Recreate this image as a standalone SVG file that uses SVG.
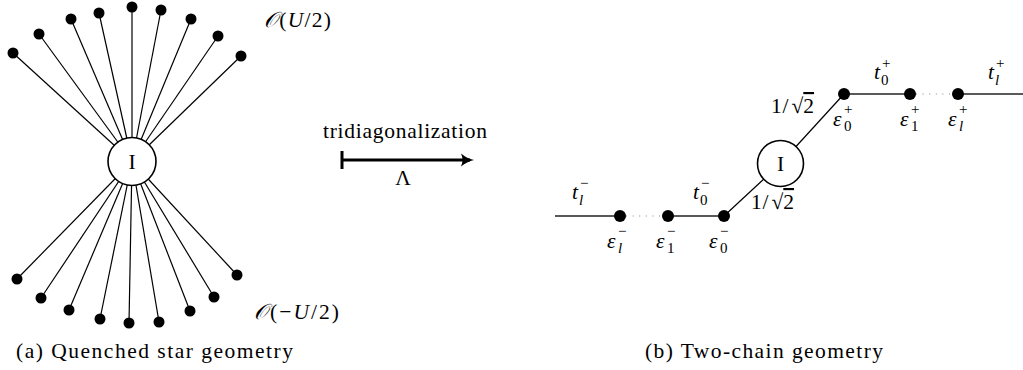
<svg xmlns="http://www.w3.org/2000/svg" width="1023" height="370" viewBox="0 0 1023 370">
<style>
text{font-family:"Liberation Serif","DejaVu Serif",serif;fill:#000}
.r{font-size:21.5px}
.m{font-size:21.5px;font-style:italic}
.s{font-size:15px;font-style:normal}
.si{font-size:15px;font-style:italic}
.ov{text-decoration:overline}
.edge{stroke:#000;stroke-width:1.2;fill:none}
.chain{stroke:#222;stroke-width:1.6;fill:none}
.dots{stroke:#888;stroke-width:1.1;stroke-dasharray:1 5.6;fill:none}
.node{fill:#fff;stroke:#000;stroke-width:1.6}
.dot{fill:#000}
</style>
<g id="connectors">
<g id="star-edges" class="edge">
<line x1="132" y1="161.5" x2="13" y2="53"/>
<line x1="132" y1="161.5" x2="39" y2="34"/>
<line x1="132" y1="161.5" x2="71" y2="19"/>
<line x1="132" y1="161.5" x2="99" y2="13"/>
<line x1="132" y1="161.5" x2="132" y2="7"/>
<line x1="132" y1="161.5" x2="161" y2="10"/>
<line x1="132" y1="161.5" x2="191" y2="19"/>
<line x1="132" y1="161.5" x2="218" y2="36"/>
<line x1="132" y1="161.5" x2="241" y2="56"/>
<line x1="132" y1="161.5" x2="17" y2="279"/>
<line x1="132" y1="161.5" x2="41" y2="298"/>
<line x1="132" y1="161.5" x2="69" y2="310"/>
<line x1="132" y1="161.5" x2="100" y2="319"/>
<line x1="132" y1="161.5" x2="129" y2="323"/>
<line x1="132" y1="161.5" x2="159" y2="322"/>
<line x1="132" y1="161.5" x2="190" y2="311"/>
<line x1="132" y1="161.5" x2="214" y2="297"/>
<line x1="132" y1="161.5" x2="237" y2="275"/>
</g>
<g id="chain-edges">
<line class="chain" x1="555" y1="216" x2="620" y2="216"/>
<line class="dots" x1="626" y1="216" x2="664" y2="216"/>
<line class="chain" x1="668" y1="216" x2="724" y2="216"/>
<line class="edge" x1="724" y1="216" x2="780.5" y2="163.5"/>
<line class="edge" x1="780.5" y1="163.5" x2="844" y2="94"/>
<line class="chain" x1="844" y1="94" x2="910" y2="94"/>
<line class="dots" x1="916" y1="94" x2="954" y2="94"/>
<line class="chain" x1="958" y1="94" x2="1023" y2="94"/>
</g>
<g id="map-arrow">
<line x1="342" y1="151" x2="342" y2="169" stroke="#000" stroke-width="3"/>
<line x1="342" y1="160" x2="470" y2="160" stroke="#000" stroke-width="3"/>
<path d="M461 153.5 Q467 158.5 474 160 Q467 161.5 461 166.5 Q464 160 461 153.5 Z" fill="#000"/>
</g>
</g>
<g id="star-center">
<circle class="node" cx="132" cy="161.5" r="24"/>
<text class="r" x="132" y="169" text-anchor="middle">I</text>
</g>
<g id="star-leaves" class="dot">
<circle cx="13" cy="53" r="5.5"/><circle cx="39" cy="34" r="5.5"/><circle cx="71" cy="19" r="5.5"/>
<circle cx="99" cy="13" r="5.5"/><circle cx="132" cy="7" r="5.5"/><circle cx="161" cy="10" r="5.5"/>
<circle cx="191" cy="19" r="5.5"/><circle cx="218" cy="36" r="5.5"/><circle cx="241" cy="56" r="5.5"/>
<circle cx="17" cy="279" r="5.5"/><circle cx="41" cy="298" r="5.5"/><circle cx="69" cy="310" r="5.5"/>
<circle cx="100" cy="319" r="5.5"/><circle cx="129" cy="323" r="5.5"/><circle cx="159" cy="322" r="5.5"/>
<circle cx="190" cy="311" r="5.5"/><circle cx="214" cy="297" r="5.5"/><circle cx="237" cy="275" r="5.5"/>
</g>
<g id="star-labels">
<text class="r" x="264" y="27" textLength="67"><tspan class="m">𝒪</tspan>(<tspan class="m">U</tspan>/2)</text>
<text class="r" x="254" y="319" textLength="85"><tspan class="m">𝒪</tspan>(−<tspan class="m">U</tspan>/2)</text>
</g>
<g id="arrow-labels">
<text class="r" x="405" y="138" text-anchor="middle" textLength="164">tridiagonalization</text>
<text class="r" x="403" y="185" text-anchor="middle">Λ</text>
</g>
<g id="impurity">
<circle class="node" cx="780.5" cy="163.5" r="23"/>
<text class="r" x="780.5" y="171" text-anchor="middle">I</text>
</g>
<g id="eps0-minus"><circle class="dot" cx="724" cy="216" r="6"/>
<text class="m" x="709" y="248">ε<tspan class="s" x="720" y="253">0</tspan><tspan class="s" x="720" y="236">−</tspan></text></g>
<g id="eps1-minus"><circle class="dot" cx="668" cy="216" r="6"/>
<text class="m" x="656" y="248">ε<tspan class="s" x="667" y="253">1</tspan><tspan class="s" x="667" y="236">−</tspan></text></g>
<g id="epsl-minus"><circle class="dot" cx="620" cy="216" r="6"/>
<text class="m" x="607" y="248">ε<tspan class="si" x="618" y="253">l</tspan><tspan class="s" x="618" y="236">−</tspan></text></g>
<g id="eps0-plus"><circle class="dot" cx="844" cy="94" r="6"/>
<text class="m" x="833" y="126">ε<tspan class="s" x="844" y="131">0</tspan><tspan class="s" x="844" y="114">+</tspan></text></g>
<g id="eps1-plus"><circle class="dot" cx="910" cy="94" r="6"/>
<text class="m" x="900" y="126">ε<tspan class="s" x="911" y="131">1</tspan><tspan class="s" x="911" y="114">+</tspan></text></g>
<g id="epsl-plus"><circle class="dot" cx="958" cy="94" r="6"/>
<text class="m" x="948" y="126">ε<tspan class="si" x="959" y="131">l</tspan><tspan class="s" x="959" y="114">+</tspan></text></g>
<g id="hopping-labels">
<text class="m" x="572" y="199">t<tspan class="si" x="579" y="205">l</tspan><tspan class="s" x="580" y="188">−</tspan></text>
<text class="m" x="693" y="199">t<tspan class="s" x="700" y="205">0</tspan><tspan class="s" x="701" y="188">−</tspan></text>
<text class="m" x="874" y="79">t<tspan class="s" x="881" y="85">0</tspan><tspan class="s" x="882" y="68">+</tspan></text>
<text class="m" x="988" y="79">t<tspan class="si" x="995" y="85">l</tspan><tspan class="s" x="996" y="68">+</tspan></text>
<text class="r" x="771" y="113">1<tspan x="782.5">/</tspan><tspan x="791.5">√</tspan><tspan class="ov" x="803.3">2</tspan></text>
<text class="r" x="751" y="209">1<tspan x="762.5">/</tspan><tspan x="771.5">√</tspan><tspan class="ov" x="783.3">2</tspan></text>
</g>
<g id="captions">
<text class="r" x="16" y="358" textLength="277">(a) Quenched star geometry</text>
<text class="r" x="645" y="358" textLength="238">(b) Two-chain geometry</text>
</g>
</svg>
